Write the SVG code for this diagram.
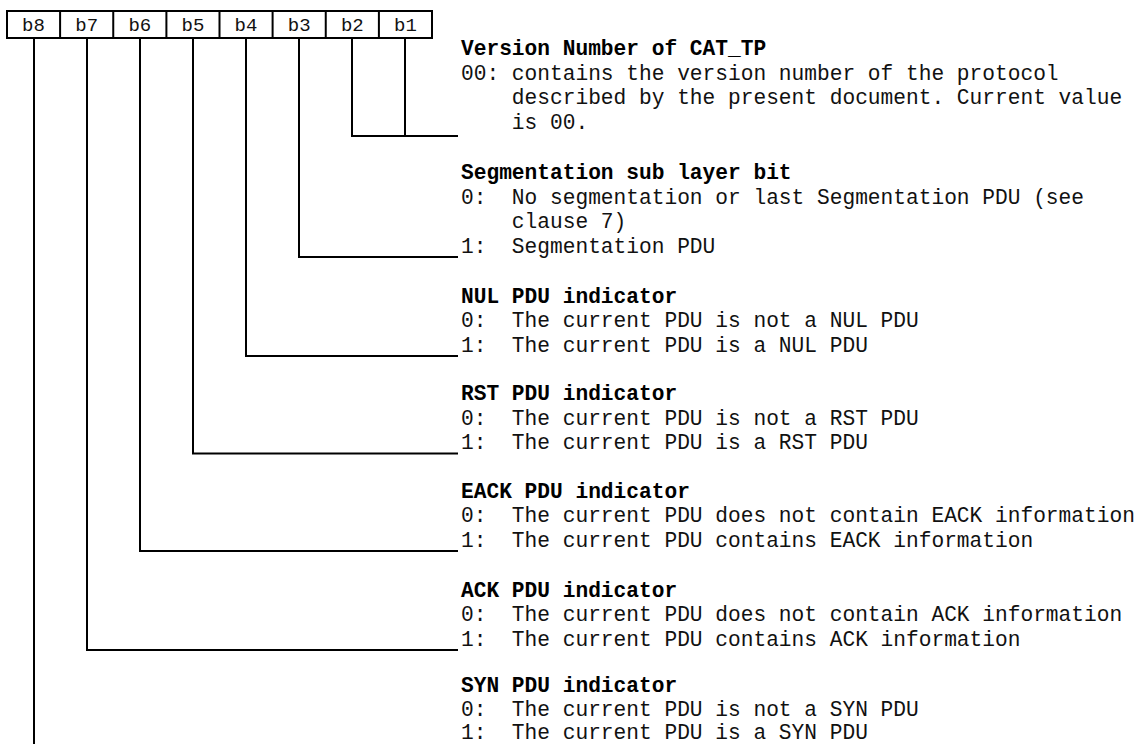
<svg xmlns="http://www.w3.org/2000/svg" width="1136" height="744" viewBox="0 0 1136 744">
<style>
.ln{fill:none;stroke:#000;stroke-width:2;stroke-linecap:square}
.t{font-family:"Liberation Mono","Courier New",monospace;font-size:21.2px;fill:#111;white-space:pre}
.b{font-weight:bold;fill:#000}
.c{font-family:"Liberation Mono","Courier New",monospace;font-size:19px;fill:#111;text-anchor:middle}
</style>
<rect width="1136" height="744" fill="#fff"/>
<g id="register">
<rect class="ln" x="7" y="11" width="425" height="27"/>
<path class="ln" d="M60.1 11V38M113.25 11V38M166.4 11V38M219.5 11V38M272.6 11V38M325.75 11V38M378.9 11V38"/>
<text class="c" x="33.5" y="31">b8</text>
<text class="c" x="86.7" y="31">b7</text>
<text class="c" x="139.8" y="31">b6</text>
<text class="c" x="192.9" y="31">b5</text>
<text class="c" x="246" y="31">b4</text>
<text class="c" x="299.2" y="31">b3</text>
<text class="c" x="352.3" y="31">b2</text>
<text class="c" x="405.4" y="31">b1</text>
</g>
<g id="connectors">
<path class="ln" d="M352 38V136H457M405 38V136"/>
<path class="ln" d="M299 38V257H457"/>
<path class="ln" d="M246 38V356H457"/>
<path class="ln" d="M193 38V453.5H457"/>
<path class="ln" d="M140 38V551H457"/>
<path class="ln" d="M87 38V650H457"/>
<path class="ln" d="M34 38V746"/>
</g>
<g id="version">
<text class="t b" x="461" y="55">Version Number of CAT_TP</text>
<text class="t" x="461" y="79.5">00: contains the version number of the protocol</text>
<text class="t" x="461" y="104">    described by the present document. Current value</text>
<text class="t" x="461" y="128.5">    is 00.</text>
</g>
<g id="segmentation">
<text class="t b" x="461" y="179">Segmentation sub layer bit</text>
<text class="t" x="461" y="203.5">0:  No segmentation or last Segmentation PDU (see</text>
<text class="t" x="461" y="228">    clause 7)</text>
<text class="t" x="461" y="252.5">1:  Segmentation PDU</text>
</g>
<g id="nul">
<text class="t b" x="461" y="302.5">NUL PDU indicator</text>
<text class="t" x="461" y="327">0:  The current PDU is not a NUL PDU</text>
<text class="t" x="461" y="351.5">1:  The current PDU is a NUL PDU</text>
</g>
<g id="rst">
<text class="t b" x="461" y="400">RST PDU indicator</text>
<text class="t" x="461" y="424.5">0:  The current PDU is not a RST PDU</text>
<text class="t" x="461" y="449">1:  The current PDU is a RST PDU</text>
</g>
<g id="eack">
<text class="t b" x="461" y="497.5">EACK PDU indicator</text>
<text class="t" x="461" y="522">0:  The current PDU does not contain EACK information</text>
<text class="t" x="461" y="546.5">1:  The current PDU contains EACK information</text>
</g>
<g id="ack">
<text class="t b" x="461" y="596.5">ACK PDU indicator</text>
<text class="t" x="461" y="621">0:  The current PDU does not contain ACK information</text>
<text class="t" x="461" y="645.5">1:  The current PDU contains ACK information</text>
</g>
<g id="syn">
<text class="t b" x="461" y="692">SYN PDU indicator</text>
<text class="t" x="461" y="715.5">0:  The current PDU is not a SYN PDU</text>
<text class="t" x="461" y="738.5">1:  The current PDU is a SYN PDU</text>
</g>
</svg>
